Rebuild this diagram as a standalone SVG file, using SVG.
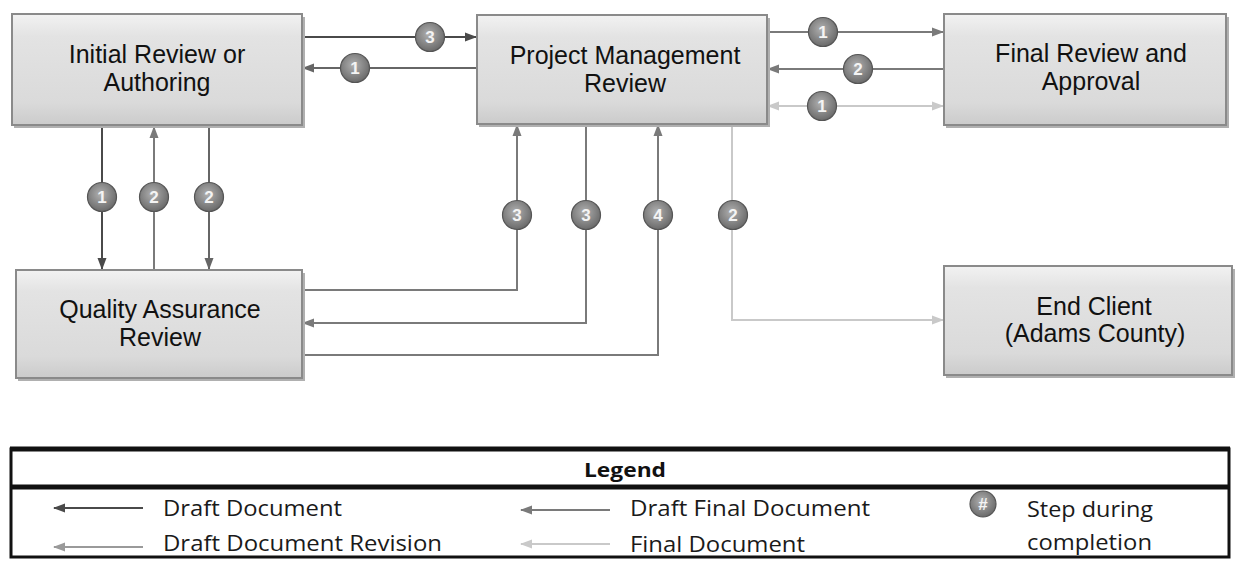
<svg xmlns="http://www.w3.org/2000/svg" width="1235" height="561" viewBox="0 0 1235 561">
<style>
.box{fill:url(#boxg);stroke:#8a8a8a;stroke-width:2}
.shadow{fill:#b0b0b0}
.nt{font-family:"Liberation Sans",Arial,sans-serif;font-size:25px;fill:#111;text-anchor:middle}
.c{fill:none;stroke-width:2}
.dk{stroke:#4a4a4a}
.md{stroke:#666}
.mg{stroke:#7a7a7a}
.lt{stroke:#c9c9c9}
.bd circle{fill:url(#badg);stroke:#555;stroke-width:1.2}
.bd text{font-family:"Liberation Sans",Arial,sans-serif;font-size:17px;font-weight:bold;fill:#f4f4f4;text-anchor:middle}
.lg{font-family:"Open Sans","Noto Sans",sans-serif;font-size:21px;fill:#1a1a1a}
</style>
<defs>
<linearGradient id="boxg" x1="0" y1="0" x2="0" y2="1">
<stop offset="0" stop-color="#f2f2f2"/>
<stop offset="0.2" stop-color="#e3e3e3"/>
<stop offset="0.8" stop-color="#dadada"/>
<stop offset="1" stop-color="#cbcbcb"/>
</linearGradient>
<radialGradient id="badg" cx="0.45" cy="0.4" r="0.6">
<stop offset="0" stop-color="#b0b0b0"/>
<stop offset="1" stop-color="#6a6a6a"/>
</radialGradient>
<marker id="aDk" markerWidth="12" markerHeight="10" refX="11" refY="5" orient="auto" markerUnits="userSpaceOnUse"><path d="M0,0.5 L12,5 L0,9.5 Z" fill="#4a4a4a"/></marker>
<marker id="aMd" markerWidth="12" markerHeight="10" refX="11" refY="5" orient="auto" markerUnits="userSpaceOnUse"><path d="M0,0.5 L12,5 L0,9.5 Z" fill="#666"/></marker>
<marker id="aMg" markerWidth="12" markerHeight="10" refX="11" refY="5" orient="auto" markerUnits="userSpaceOnUse"><path d="M0,0.5 L12,5 L0,9.5 Z" fill="#7a7a7a"/></marker>
<marker id="aLt" markerWidth="12" markerHeight="10" refX="11" refY="5" orient="auto" markerUnits="userSpaceOnUse"><path d="M0,0.5 L12,5 L0,9.5 Z" fill="#c9c9c9"/></marker>
<marker id="aLtS" markerWidth="12" markerHeight="10" refX="1" refY="5" orient="auto" markerUnits="userSpaceOnUse"><path d="M12,0.5 L0,5 L12,9.5 Z" fill="#c9c9c9"/></marker>
<marker id="aLg" markerWidth="12" markerHeight="10" refX="11" refY="5" orient="auto" markerUnits="userSpaceOnUse"><path d="M0,0.5 L12,5 L0,9.5 Z" fill="#9a9a9a"/></marker>
</defs>
<rect width="1235" height="561" fill="#ffffff"/>

<g id="connectors">
<path class="c dk" d="M302,37 H476" marker-end="url(#aDk)"/>
<path class="c md" d="M477,68 H303" marker-end="url(#aMd)"/>
<path class="c mg" d="M767,32 H943" marker-end="url(#aMg)"/>
<path class="c mg" d="M944,69 H768" marker-end="url(#aMg)"/>
<path class="c lt" d="M768,106 H943" marker-start="url(#aLtS)" marker-end="url(#aLt)"/>
<path class="c dk" d="M102,126 V269" marker-end="url(#aDk)"/>
<path class="c mg" d="M154,270 V127" marker-end="url(#aMg)"/>
<path class="c md" d="M209,126 V269" marker-end="url(#aMd)"/>
<path class="c mg" d="M302,290 H517 V125" marker-end="url(#aMg)"/>
<path class="c mg" d="M586,124 V323 H303" marker-end="url(#aMg)"/>
<path class="c mg" d="M302,355 H658 V125" marker-end="url(#aMg)"/>
<path class="c lt" d="M732,124 V320 H943" marker-end="url(#aLt)"/>
<g class="bd">
<circle cx="430" cy="37" r="14.5"/><text x="430" y="43">3</text>
<circle cx="355" cy="68" r="14.5"/><text x="355" y="74">1</text>
<circle cx="823" cy="32" r="14.5"/><text x="823" y="38">1</text>
<circle cx="858" cy="69" r="14.5"/><text x="858" y="75">2</text>
<circle cx="822" cy="106" r="14.5"/><text x="822" y="112">1</text>
<circle cx="102" cy="197" r="14.5"/><text x="102" y="203">1</text>
<circle cx="154" cy="197" r="14.5"/><text x="154" y="203">2</text>
<circle cx="209" cy="197" r="14.5"/><text x="209" y="203">2</text>
<circle cx="517" cy="215" r="14.5"/><text x="517" y="221">3</text>
<circle cx="586" cy="215" r="14.5"/><text x="586" y="221">3</text>
<circle cx="658" cy="215" r="14.5"/><text x="658" y="221">4</text>
<circle cx="733" cy="215" r="14.5"/><text x="733" y="221">2</text>
</g>
</g>

<g id="node-initial">
<rect class="shadow" x="14" y="17" width="291" height="111"/>
<rect class="box" x="12" y="14" width="290" height="111"/>
<text class="nt" x="157" y="63">Initial Review or</text>
<text class="nt" x="157" y="91">Authoring</text>
</g>
<g id="node-pm">
<rect class="shadow" x="479" y="18" width="291" height="109"/>
<rect class="box" x="477" y="15" width="290" height="109"/>
<text class="nt" x="625" y="64">Project Management</text>
<text class="nt" x="625" y="92">Review</text>
</g>
<g id="node-final">
<rect class="shadow" x="946" y="17" width="283" height="111"/>
<rect class="box" x="944" y="14" width="282" height="111"/>
<text class="nt" x="1091" y="62">Final Review and</text>
<text class="nt" x="1091" y="90">Approval</text>
</g>
<g id="node-qa">
<rect class="shadow" x="18" y="273" width="287" height="108"/>
<rect class="box" x="16" y="270" width="286" height="108"/>
<text class="nt" x="160" y="318">Quality Assurance</text>
<text class="nt" x="160" y="346">Review</text>
</g>
<g id="node-client">
<rect class="shadow" x="946" y="269" width="289" height="109"/>
<rect class="box" x="944" y="266" width="288" height="109"/>
<text class="nt" x="1094" y="315">End Client</text>
<text class="nt" x="1095" y="342">(Adams County)</text>
</g>

<g id="legend">
<rect x="11" y="449" width="1218" height="108" fill="#fff" stroke="#111" stroke-width="3"/>
<line x1="10" y1="449" x2="1230" y2="449" stroke="#111" stroke-width="5"/>
<line x1="10" y1="487" x2="1230" y2="487" stroke="#111" stroke-width="5"/>
<text x="625" y="477" font-family="'Open Sans','Noto Sans',sans-serif" font-size="20" font-weight="bold" fill="#111" text-anchor="middle" textLength="82" lengthAdjust="spacingAndGlyphs">Legend</text>
<line x1="143" y1="508" x2="54" y2="508" stroke="#4a4a4a" stroke-width="2" marker-end="url(#aDk)"/>
<text class="lg" x="163" y="516" textLength="179" lengthAdjust="spacingAndGlyphs">Draft Document</text>
<line x1="143" y1="547" x2="54" y2="547" stroke="#9a9a9a" stroke-width="2" marker-end="url(#aLg)"/>
<text class="lg" x="163" y="551" textLength="279" lengthAdjust="spacingAndGlyphs">Draft Document Revision</text>
<line x1="610" y1="510" x2="521" y2="510" stroke="#7a7a7a" stroke-width="2" marker-end="url(#aMg)"/>
<text class="lg" x="630" y="516" textLength="240" lengthAdjust="spacingAndGlyphs">Draft Final Document</text>
<line x1="610" y1="544" x2="521" y2="544" stroke="#c9c9c9" stroke-width="2" marker-end="url(#aLt)"/>
<text class="lg" x="630" y="552" textLength="175" lengthAdjust="spacingAndGlyphs">Final Document</text>
<g class="bd"><circle cx="983" cy="504" r="13"/><text x="983" y="510" font-size="15">#</text></g>
<text class="lg" x="1027" y="517" textLength="126" lengthAdjust="spacingAndGlyphs">Step during</text>
<text class="lg" x="1027" y="550" textLength="125" lengthAdjust="spacingAndGlyphs">completion</text>
</g>
</svg>
